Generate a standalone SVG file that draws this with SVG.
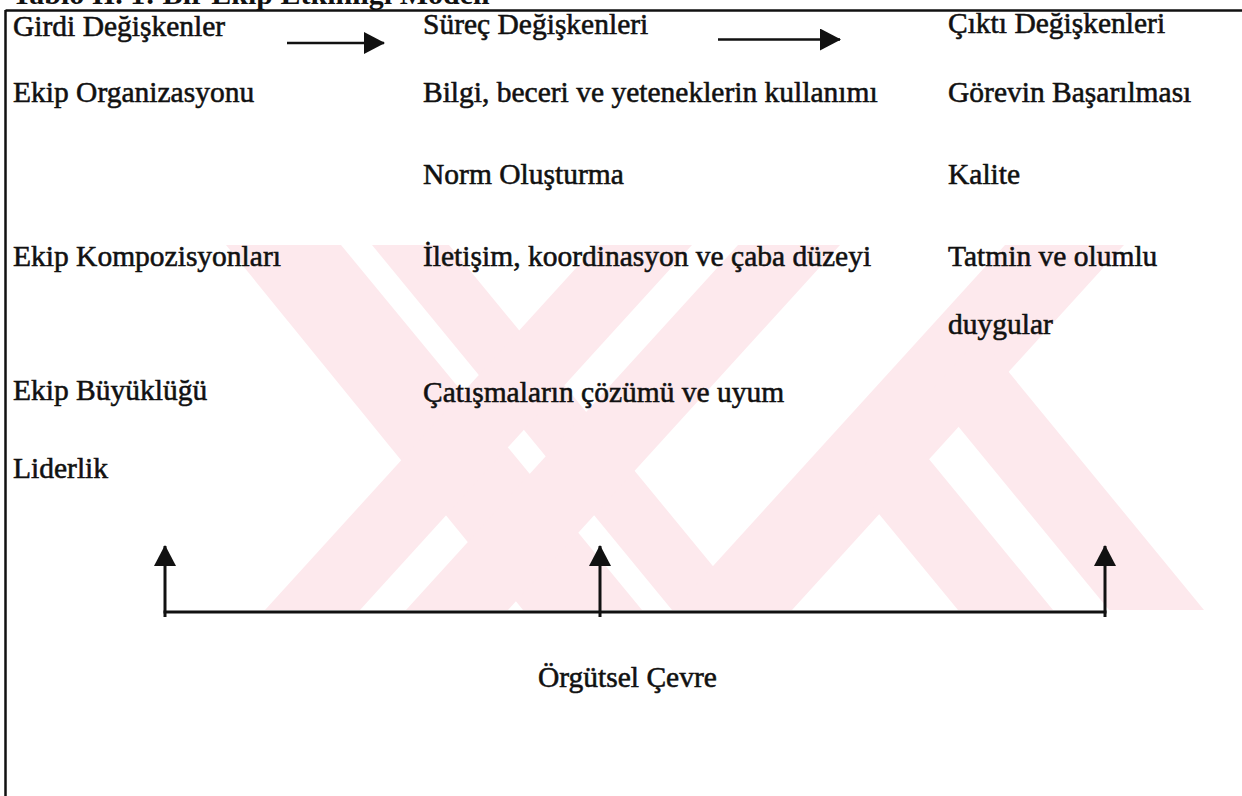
<svg xmlns="http://www.w3.org/2000/svg" width="1242" height="796" viewBox="0 0 1242 796">
<defs>
<style>
.t{font-family:"Liberation Serif","Times New Roman",serif;font-size:29.5px;fill:#111;stroke:#111;stroke-width:0.55px}
.title{font-family:"Liberation Serif","Times New Roman",serif;font-size:30px;font-weight:bold;fill:#111}
.ln{stroke:#111;stroke-width:3;fill:none}
.hl{stroke:#111;stroke-width:2.5;fill:none}
.wm{fill:#fde9ed}
</style>
<marker id="ah" viewBox="0 0 22 22" refX="20" refY="11" markerWidth="22" markerHeight="22" markerUnits="userSpaceOnUse" orient="auto">
<path d="M0,0 L21,11 L0,22 Z" fill="#111"/>
</marker>
</defs>
<rect width="1242" height="796" fill="#fff"/>
<g id="watermark">
<polygon class="wm" points="226,245 341,245 642,610 523,610"/>
<polygon class="wm" points="372,245 449,245 749,610 672,610"/>
<polygon class="wm" points="597,245 692,245 360,610 265,610"/>
<polygon class="wm" points="738,245 840,245 508,610 406,610"/>
<polygon class="wm" points="1005,245 1124,245 792,610 673,610"/>
<polygon class="wm" points="958,610 1053,610 901,425 851,480"/>
<polygon class="wm" points="1109,610 1204,610 980,337 930,392"/>
</g>
<g id="frame">
<line class="hl" x1="5.5" y1="10.5" x2="1242" y2="10.5"/>
<line class="hl" x1="5.5" y1="10" x2="5.5" y2="796"/>
</g>
<text class="title" x="12" y="4">Tablo II. 1: Bir Ekip Etkinliği Modeli</text>
<g id="input-vars">
<text class="t" x="13" y="36">Girdi Değişkenler</text>
<text class="t" x="13" y="102">Ekip Organizasyonu</text>
<text class="t" x="13" y="266">Ekip Kompozisyonları</text>
<text class="t" x="13" y="400">Ekip Büyüklüğü</text>
<text class="t" x="13" y="478">Liderlik</text>
</g>
<g id="process-vars">
<text class="t" x="423" y="34">Süreç Değişkenleri</text>
<text class="t" x="423" y="102">Bilgi, beceri ve yeteneklerin kullanımı</text>
<text class="t" x="423" y="184">Norm Oluşturma</text>
<text class="t" x="423" y="266">İletişim, koordinasyon ve çaba düzeyi</text>
<text class="t" x="423" y="402">Çatışmaların çözümü ve uyum</text>
</g>
<g id="output-vars">
<text class="t" x="948" y="33">Çıktı Değişkenleri</text>
<text class="t" x="948" y="102">Görevin Başarılması</text>
<text class="t" x="948" y="184">Kalite</text>
<text class="t" x="948" y="266">Tatmin ve olumlu</text>
<text class="t" x="948" y="334">duygular</text>
</g>
<g id="environment">
<text class="t" x="538" y="687">Örgütsel Çevre</text>
</g>
<g id="connectors">
<line class="hl" x1="287" y1="43" x2="384" y2="43" marker-end="url(#ah)"/>
<line class="hl" x1="718" y1="39.5" x2="840" y2="39.5" marker-end="url(#ah)"/>
<line class="ln" x1="163.5" y1="612" x2="1106.5" y2="612"/>
<line class="ln" x1="165" y1="617" x2="165" y2="546" marker-end="url(#ah)"/>
<line class="ln" x1="600" y1="617" x2="600" y2="546" marker-end="url(#ah)"/>
<line class="ln" x1="1105" y1="617" x2="1105" y2="546" marker-end="url(#ah)"/>
</g>
</svg>
